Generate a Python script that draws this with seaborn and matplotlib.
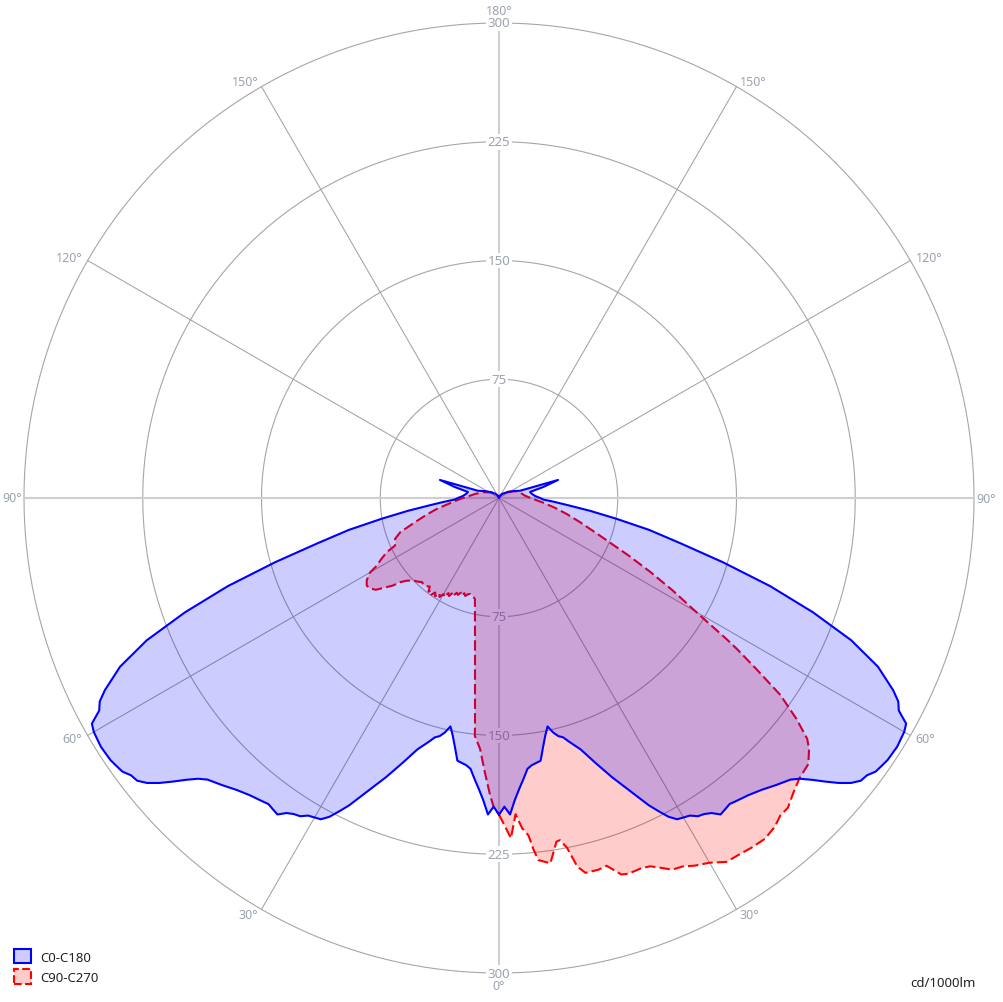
import numpy as np
import seaborn as sns
import matplotlib
matplotlib.use('Agg')
import matplotlib.pyplot as plt
from matplotlib.patches import Patch

# %%
# C0-C180 plane (symmetric, same values on both sides), gamma in degrees, cd/1000lm
gamma_c0 = [0, 1, 2, 3, 4, 5, 6, 7, 8, 9, 10, 11, 12, 13, 14, 15, 16, 18, 20, 22, 24, 26, 27, 28, 29,
            30, 31, 32, 33, 34, 35, 36, 37, 38, 40, 42, 44, 46, 47, 48, 49, 50, 51, 52, 53, 54, 55, 56,
            58, 60, 61, 62, 63, 64, 66, 68, 70, 72, 74, 76, 78, 80, 82, 84, 86, 88, 90, 93, 97, 101,
            104, 107, 109, 112, 116, 120, 125, 130, 140, 150, 160, 170, 180]
cd_c0 = [200, 195, 200, 191, 184, 178, 172, 170, 169, 168, 160, 153, 147.5, 152, 155, 156.5, 160, 167,
         178, 190, 202, 216, 222, 228, 232, 233, 234, 237, 238, 240, 244, 243, 242, 243, 245, 248, 252,
         256, 260, 266, 273, 280, 286, 290, 291, 294, 295, 296, 296.5, 295.5, 294, 286, 283, 277, 262,
         240, 211, 180, 147, 118, 97, 75, 58, 44, 35, 28, 26, 23, 21, 20, 29, 39, 14, 12, 10, 8, 6.5,
         5, 3.5, 2, 1, 0.5, 0]

# C90 half (right side)
gamma_c90 = [0, 1, 2, 3, 4, 5, 5.6, 6.2, 8, 9.5, 10.1, 11, 12, 13, 15, 16.3, 18, 19, 21, 22.3, 24, 25,
             26.5, 28, 30, 32, 34, 36, 38, 40, 41.5, 43, 45, 47, 49.3, 51, 52, 53.4, 55, 56.4, 57.6,
             58.2, 59.7, 62, 64, 66, 68, 70, 73.5, 76.7, 80, 84, 88, 95, 105, 111, 124, 140, 160, 180]
cd_c90 = [200, 207, 215, 200, 209, 214, 223, 230, 233, 220, 219.5, 225, 238, 243, 243, 242, 250, 251,
          250.5, 251.4, 256, 259, 260, 263, 266, 271, 271.5, 272.5, 273, 271, 268, 267.5, 263, 259.5,
          257.7, 252, 247, 234, 217, 195, 178, 169, 147, 124, 106, 90, 76, 66, 53, 44, 36, 28, 22,
          16.5, 13.7, 12, 7, 4, 1.5, 0]

# C270 half (left side)
gamma_c270 = [0, 1, 1.7, 3, 4.3, 5.8, 6, 7, 8, 9, 10, 11, 12, 13.4, 15, 16.8, 18, 19, 20, 21, 22, 23,
              24, 25, 26, 27, 28, 29, 30, 31, 32, 33, 34, 35, 36, 37, 38, 40, 41.4, 42.5, 44, 46, 48,
              49.6, 50.5, 52, 53.3, 55, 56.5, 58, 59, 60, 61, 62.5, 64.2, 65.4, 67, 68.5, 70.9, 74,
              77, 80, 84, 88.5, 94.5, 99.5, 110, 128, 150, 180]
cd_c270 = [200, 195, 188, 173, 159, 151, 145, 124.4, 109, 97, 87.3, 79.4, 73, 65.6, 64, 63.3, 64,
           65.5, 64, 66, 64.5, 66.5, 65.5, 68, 66.5, 69.5, 68, 71.5, 70, 73, 71, 74, 72, 74.5, 72.5,
           74, 71, 72.5, 72.4, 72, 73.5, 75, 78, 82, 87, 92, 97, 99.5, 100.2, 98.5, 96.5, 94, 88.3,
           84, 78.8, 72.3, 71, 70.6, 66, 55, 47, 40, 31, 24.6, 18.4, 15.4, 10.7, 5.8, 2, 0]

ring_values = [75, 150, 225, 300]
angle_labels = [0, 30, 60, 90, 120, 150, 180]
series_labels = ['C0-C180', 'C90-C270']
unit_label = 'cd/1000lm'


# %%
def full_curve(g_right, c_right, g_left, c_left):
    # right side: theta = gamma, left side: theta = 360 - gamma (walked back to 0)
    th = np.concatenate([np.radians(g_right), 2 * np.pi - np.radians(g_left[::-1])])
    r = np.concatenate([c_right, c_left[::-1]])
    return th, r


sns.set_theme(style='white')
plt.rcParams['font.family'] = ['Noto Sans', 'DejaVu Sans']

fig = plt.figure(figsize=(10.04, 10.03), dpi=100)
ax = fig.add_axes([24 / 1004, 29 / 1003, 950 / 1004, 950 / 1003], projection='polar')
ax.set_theta_zero_location('S')
ax.set_theta_direction(1)
ax.set_ylim(0, 300)
ax.grid(False)
ax.set_xticks([])
ax.set_yticks([])
ax.spines['polar'].set_visible(False)

lab_col = '#9ba3b0'

# grid rings
circ = np.linspace(0, 2 * np.pi, 721)
for rv in ring_values:
    ax.plot(circ, np.full_like(circ, rv), color='#a6a6a6', lw=0.8, zorder=1, clip_on=False)

# spokes
for deg in range(0, 360, 30):
    t = np.radians(deg)
    if deg % 90 == 0:
        ax.plot([t, t], [0, 300], color='#cfcfcf', lw=1.5, zorder=1, clip_on=False)
    else:
        ax.plot([t, t], [0, 300], color='#a3a3a3', lw=0.75, zorder=1, clip_on=False)

# ring labels on the vertical axis
for rv in ring_values:
    for t in [0, np.pi]:
        ax.text(t, rv, str(rv), ha='center', va='center', color=lab_col, fontsize=9.5,
                bbox=dict(fc='white', ec='none', pad=1), zorder=2)

# angle labels
for a in angle_labels:
    sides = [a] if a in (0, 180) else [a, -a]
    for s in sides:
        t = np.radians(s)
        ux, uy = np.sin(t), -np.cos(t)
        if a == 0:
            ha, va, off = 'center', 'top', (0, -6)
        elif a == 180:
            ha, va, off = 'center', 'bottom', (0, 6)
        else:
            ha = 'left' if s > 0 else 'right'
            va = 'center'
            k = 2 if a == 90 else 6
            off = (k * ux, k * uy)
        ax.annotate(f'{a}°', xy=(t, 300), xytext=off, textcoords='offset pixels',
                    ha=ha, va=va, color=lab_col, fontsize=9, annotation_clip=False)

# %%
th_red, r_red = full_curve(gamma_c90, cd_c90, gamma_c270, cd_c270)
th_blue, r_blue = full_curve(gamma_c0, cd_c0, gamma_c0, cd_c0)

ax.fill(th_red, r_red, color=(1, 0, 0, 0.2), lw=0, zorder=3)
sns.lineplot(x=th_red, y=r_red, sort=False, estimator=None, errorbar=None, ax=ax,
             color='red', lw=1.5, linestyle=(0, (5, 2)), zorder=4)
ax.fill(th_blue, r_blue, color=(0, 0, 1, 0.2), lw=0, zorder=5)
sns.lineplot(x=th_blue, y=r_blue, sort=False, estimator=None, errorbar=None, ax=ax,
             color='blue', lw=1.5, zorder=6)
ax.set_xlabel('')
ax.set_ylabel('')
ax.set_ylim(0, 300)

handles = [Patch(facecolor=(0, 0, 1, 0.2), edgecolor='blue', lw=1.5),
           Patch(facecolor=(1, 0, 0, 0.2), edgecolor='red', lw=1.5, linestyle='--')]
fig.legend(handles, series_labels, loc='lower left', bbox_to_anchor=(0.002, 0.006), frameon=False,
           fontsize=9.5, handlelength=1.3, handleheight=1.3, labelspacing=0.45, handletextpad=0.7,
           labelcolor='#222222')
fig.text(0.972, 0.019, unit_label, ha='right', va='center', fontsize=9.5, color='#222222')

fig.savefig('out.png', dpi=100)
